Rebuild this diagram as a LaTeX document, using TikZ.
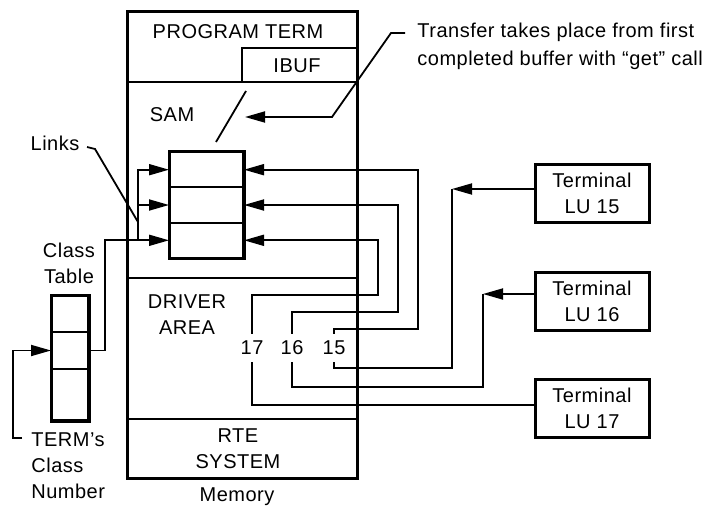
\documentclass[tikz,border=0pt]{standalone}
\usepackage{fontspec}
\setmainfont{Liberation Sans}[LetterSpace=2.5]
\usetikzlibrary{arrows.meta}
\begin{document}
\begin{tikzpicture}[x=0.5pt,y=-0.5pt,
  txt/.style={font=\fontsize{10}{13}\selectfont, inner sep=0pt, align=center},
  wire/.style={line width=0.9pt},
  arr/.style={wire, -{Triangle[length=10pt,width=5.5pt]}},
  heavy/.style={line width=1.5pt},
  divider/.style={line width=1pt},
  cell/.style={draw, line width=1pt, inner sep=0pt},
  bufcell/.style={cell, minimum width=36.5pt, minimum height=17.67pt},
  clscell/.style={cell, minimum width=18pt},
  term/.style={draw, line width=1.5pt, inner sep=0pt, minimum width=57pt, minimum height=29pt, align=center, font=\fontsize{10}{13}\selectfont},
  num/.style={font=\fontsize{10}{12}\selectfont, inner xsep=1pt, inner ysep=3.5pt}
]
\useasboundingbox (0,0) rectangle (717,508);

% Memory block
\draw[heavy] (127,12) rectangle (357,478);
\draw[divider] (127,82) -- (357,82);
\draw[divider] (242,82) |- (357,48);
\draw[divider] (127,278) -- (357,278);
\draw[divider] (127,419) -- (357,419);

\node[txt] (prog) at (238,32) {PROGRAM TERM};
\node[txt] (ibuf) at (297,66) {IBUF};
\node[txt] (sam) at (172,115) {SAM};
\node[txt] (drv) at (187,315) {DRIVER\\AREA};
\node[txt] (rte) at (238,449) {RTE\\SYSTEM};
\node[txt] (mem) at (237,497) {Memory};

% SAM buffers
\node[bufcell] (buf1) at (206.5,169.7) {};
\node[bufcell] (buf2) at (206.5,205) {};
\node[bufcell] (buf3) at (206.5,240.3) {};
\draw[heavy] (buf1.north west) rectangle (buf3.south east);

% Class table
\node[clscell, minimum height=18pt] (cls1) at (70,314) {};
\node[clscell, minimum height=18.5pt] (cls2) at (70,350.5) {};
\node[clscell, minimum height=25.5pt] (cls3) at (70,394.5) {};
\draw[heavy] (cls1.north west) rectangle (cls3.south east);
\node[txt] (clst) at (69,263) {Class\\Table};
\node[txt, align=left, anchor=west] (termcn) at (31,466) {TERM’s\\Class\\Number};
\node[txt] (links) at (55,143) {Links};

% Terminals
\node[term] (t15) at (592,193.5) {Terminal\\LU 15};
\node[term] (t16) at (592,301) {Terminal\\LU 16};
\node[term] (t17) at (592,408) {Terminal\\LU 17};

% Transfer note
\node[txt, align=left, anchor=west, font=\fontsize{10}{14}\selectfont] (tr) at (417,46) {Transfer takes place from first\\completed buffer with “get” call};
\coordinate (trl) at (405,33);
\draw[arr] (trl) -- (391,33) -- (332,117) -- (245,117);
\draw[wire] (246,91) -- (216,142);

% Links leader
\coordinate (lkl) at (87,147);
\draw[wire] (lkl) -- (95,149) -- (138,222);

% Driver numbers
\node[num] (l15) at (334,348) {15};
\node[num] (l16) at (292,348) {16};
\node[num] (l17) at (252,348) {17};

% Wires from terminals
\coordinate (c15) at (452,189);
\coordinate (c16) at (483,294);
\draw[arr] (t15.west |- c15) -- (c15);
\draw[arr] (t16.west |- c16) -- (c16);
\draw[wire] (c15) -- (452,368) -| (l15.south);
\draw[arr] (l15.north) |- (418,329) |- (buf1.east);
\draw[wire] (c16) -- (483,387) -| (l16.south);
\draw[arr] (l16.north) |- (398,312) |- (buf2.east);
\draw[wire] (t17.west |- 0,405) -| (l17.south);
\draw[arr] (l17.north) |- (378,295) |- (buf3.east);

% Links from class table
\draw[arr] (cls2.east) -- (105,350.5) |- (buf3.west);
\coordinate (lk) at (138,240.3);
\draw[arr] (lk) |- (buf1.west);
\draw[arr] (lk |- buf2.west) -- (buf2.west);

% TERM's class number
\coordinate (tcn) at (22,438);
\draw[arr] (tcn) -- (13,438) |- (cls2.west);
\end{tikzpicture}
\end{document}
